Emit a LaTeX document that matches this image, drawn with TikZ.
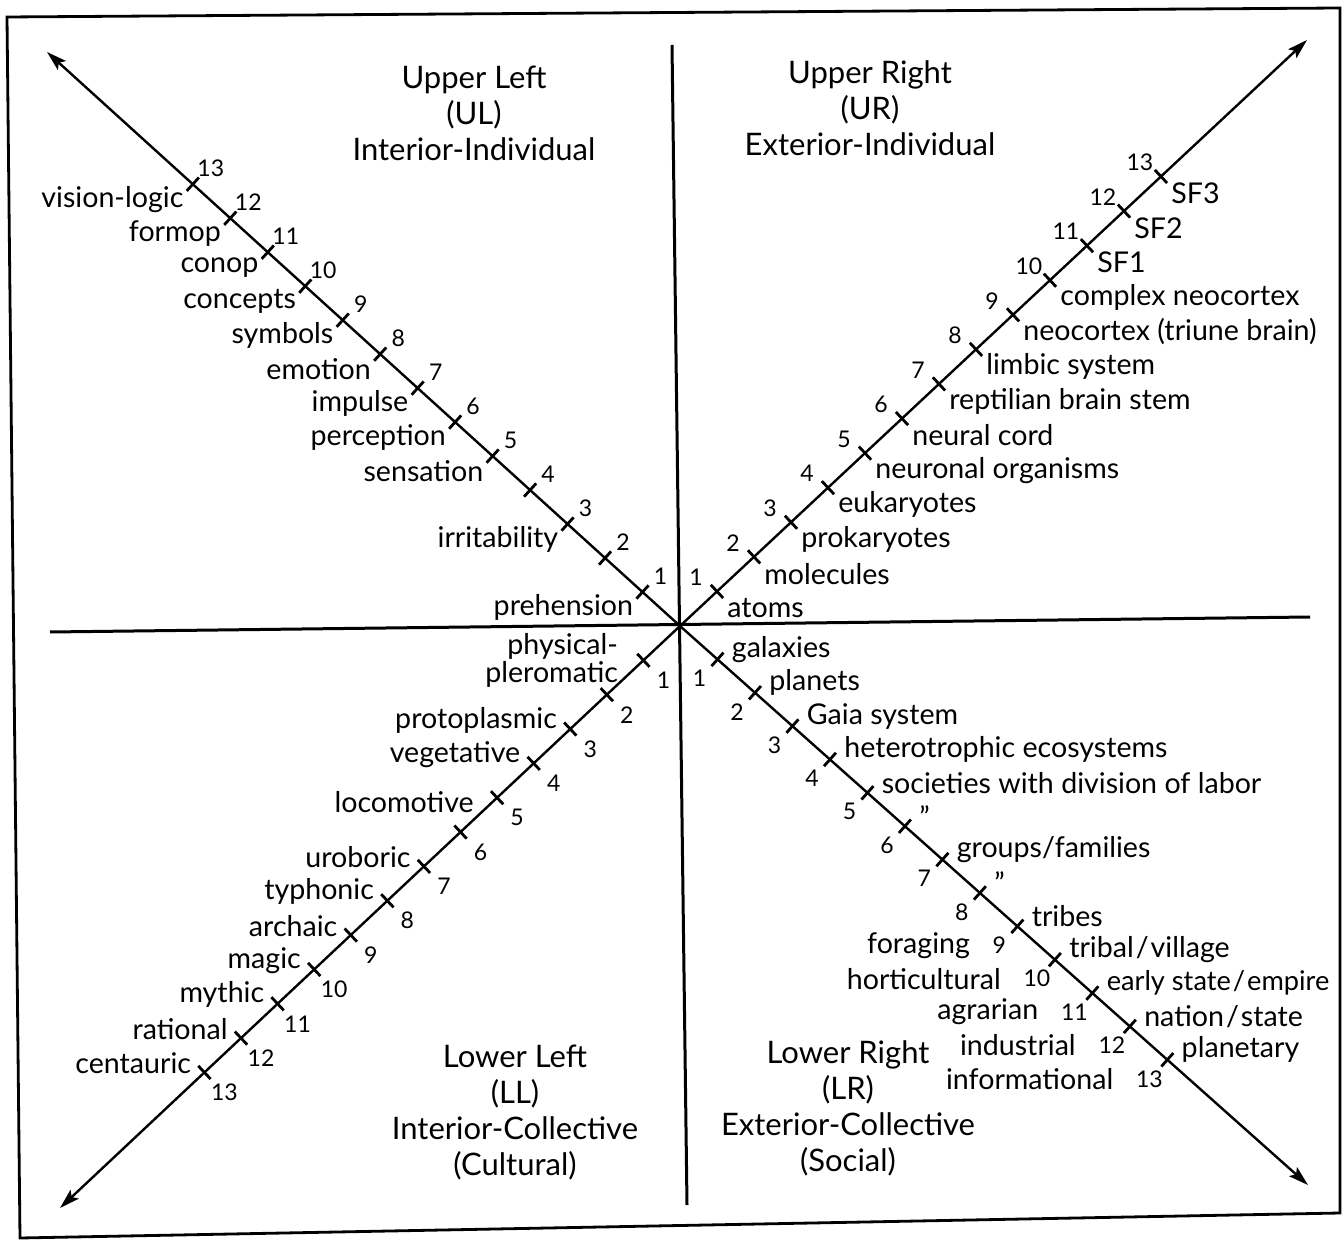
\documentclass[tikz,border=0pt]{standalone}
\usepackage{fontspec}
\setmainfont{Lato}
\usetikzlibrary{calc,positioning,arrows.meta}

\tikzset{
  axis line/.style={line width=1.5pt},
  diag line/.style={line width=1.2pt, -{Stealth[length=10pt,width=6pt,inset=2pt]}},
  tick mark/.style={line width=1.4pt},
  stage/.style={inner sep=0pt, font=\fontsize{14.3}{11}\selectfont},
  level/.style={inner sep=0pt, font=\fontsize{11.5}{13}\selectfont},
  quadrant title/.style={align=center, inner sep=0pt, font=\fontsize{15.5}{18}\selectfont}
}

\begin{document}
\begin{tikzpicture}[x=0.5pt, y=-0.5pt]
\useasboundingbox (0,0) rectangle (1344,1240);
\draw[line width=1.4pt] (7,17) -- (1340,8) -- (1340,1213) -- (20,1238) -- cycle;

\coordinate (O) at (680,626);
\coordinate (ul-tip) at (47,52);
\coordinate (ur-tip) at (1307,40);
\coordinate (ll-tip) at (60,1208);
\coordinate (lr-tip) at (1308,1185);
\coordinate (h-west) at (50,632);
\coordinate (h-east) at (1310,617);
\coordinate (v-north) at (672,45);
\coordinate (v-south) at (687,1205);

\draw[axis line] (h-west) -- (h-east);
\draw[axis line] (v-north) -- (v-south);
\foreach \q in {ul,ur,ll,lr}
  \draw[diag line] (O) -- (\q-tip);

\foreach \q/\f in {ul/0.0592,ur/0.0590,ll/0.0590,lr/0.0597}
  \foreach \k in {1,...,13}
  {
    \coordinate (\q-\k) at ($(O)!\k*\f!(\q-tip)$);
    \draw[tick mark] ($(\q-\k)!4.5pt!90:(\q-tip)$) -- ($(\q-\k)!4.5pt!-90:(\q-tip)$);
  }

\foreach \k in {1,...,13}
{
  \node[level] (ul-n\k) at ($(ul-\k)+(18,-16)$) {\k};
  \node[level] (ur-n\k) at ($(ur-\k)+(-21,-14)$) {\k};
  \node[level] (ll-n\k) at ($(ll-\k)+(20,20)$) {\k};
  \node[level] (lr-n\k) at ($(lr-\k)+(-18,19)$) {\k};
}

\foreach \k/\t in {13/vision-logic, 12/formop, 11/conop, 10/concepts, 9/symbols,
    8/emotion, 7/impulse, 6/perception, 5/sensation, 3/irritability, 1/prehension}
  \node[stage, anchor=east] (ul-s\k) at ($(ul-\k)+(-9,15)$) {\t};

\foreach \k/\t in {13/SF3, 12/SF2, 11/SF1, 10/complex neocortex,
    9/neocortex (triune brain), 8/limbic system, 7/reptilian brain stem,
    6/neural cord, 5/neuronal organisms, 4/eukaryotes, 3/prokaryotes,
    2/molecules, 1/atoms}
  \node[stage, anchor=west] (ur-s\k) at ($(ur-\k)+(10,17)$) {\t};

\foreach \k/\t in {3/protoplasmic, 4/vegetative, 7/uroboric, 8/typhonic,
    9/archaic, 10/magic, 11/mythic, 12/rational, 13/centauric}
  \node[stage, anchor=east] (ll-s\k) at ($(ll-\k)+(-13,-9)$) {\t};
\node[stage, anchor=east, align=right] (ll-s1) at ($(ll-1)+(-25,0)$) {physical-\\pleromatic};
\node[stage, anchor=east] (ll-s5) at ($(ll-5)+(-23,4)$) {locomotive};

\foreach \k/\t in {1/galaxies, 2/planets, 3/Gaia system, 4/heterotrophic ecosystems,
    5/societies with division of labor, 6/{''}, 7/{groups/families}, 8/{''},
    9/tribes, 10/{tribal\kern1pt/\kern1pt village},
    11/{\fontsize{13.6}{11}\selectfont early state\kern1pt/\kern1pt empire},
    12/{nation\kern1pt/\kern1pt state}, 13/planetary}
  \node[stage, anchor=west] (lr-s\k) at ($(lr-\k)+(14,-10)$) {\t};

\foreach \k/\t in {9/foraging, 10/horticultural, 11/agrarian, 12/industrial, 13/informational}
  \node[stage, left=11pt of lr-n\k] (lr-e\k) {\t};

\node[quadrant title] (ul-title) at (474,113) {Upper Left\\(UL)\\Interior-Individual};
\node[quadrant title] (ur-title) at (870,108) {Upper Right\\(UR)\\Exterior-Individual};
\node[quadrant title] (ll-title) at (515,1112) {Lower Left\\(LL)\\Interior-Collective\\(Cultural)};
\node[quadrant title] (lr-title) at (848,1108) {Lower Right\\(LR)\\Exterior-Collective\\(Social)};

\end{tikzpicture}
\end{document}
